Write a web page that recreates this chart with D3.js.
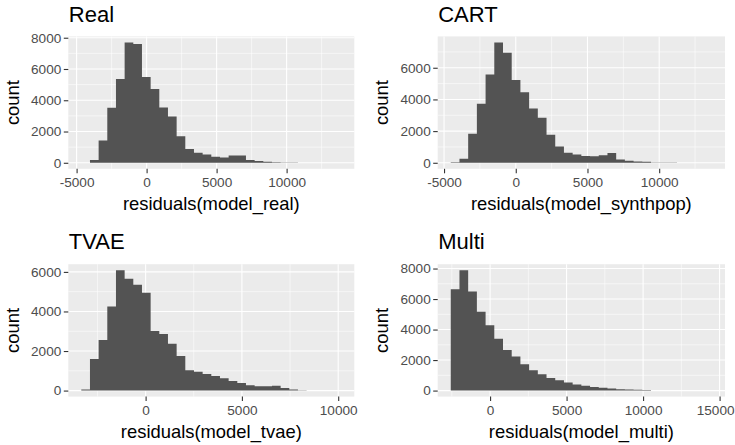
<!DOCTYPE html>
<html>
<head>
<meta charset="utf-8">
<script src="https://cdn.jsdelivr.net/npm/d3@7"></script>
<style>
  body { margin: 0; background: #ffffff; }
  text { font-family: "Liberation Sans", Arial, Helvetica, sans-serif; }
  .tick text { fill: #4d4d4d; font-size: 13.6px; }
  .tick line { stroke: #333333; stroke-width: 1.1; }
  .domain { display: none; }
  .title { font-size: 22px; fill: #000; }
  .axtitle { font-size: 18.4px; fill: #000; }
</style>
</head>
<body>
<script>
//panel titles and axis titles
var titles = ["Real", "CART", "TVAE", "Multi"];
var xTitles = ["residuals(model_real)", "residuals(model_synthpop)",
               "residuals(model_tvae)", "residuals(model_multi)"];

//histogram breaks: left edge of the first bin and bin width (30 bins each)
var binStart = [-4664, -4532, -3339, -2570];
var binWidth = [619, 607, 450, 569];

//bin counts
var realCounts  = [2, 170, 1430, 3520, 5355, 7700, 7595, 5480, 4715, 3540,
                   2965, 1705, 875, 640, 533, 384, 341, 470, 470, 171,
                   107, 64, 30, 20, 15, 10, 3, 2, 1, 1];
var cartCounts  = [40, 250, 1830, 3725, 5580, 7600, 6945, 5220, 4460, 3430,
                   2840, 1770, 1030, 640, 520, 430, 420, 470, 610, 210,
                   125, 85, 60, 25, 15, 10, 5, 2, 1, 1];
var tvaeCounts  = [50, 1600, 2555, 4250, 6085, 5650, 5345, 4940, 3010, 2860,
                   2370, 1750, 1025, 950, 840, 740, 625, 490, 385, 265,
                   215, 215, 250, 130, 50, 17, 5, 2, 1, 1];
var multiCounts = [6645, 7890, 6490, 5160, 4285, 3390, 2665, 2230, 1725, 1335,
                   1070, 830, 680, 525, 395, 320, 240, 180, 130, 90,
                   70, 50, 35, 3, 2, 2, 1, 1, 1, 1];
var counts = [realCounts, cartCounts, tvaeCounts, multiCounts];

//tick values
var xTicks = [[-5000, 0, 5000, 10000], [-5000, 0, 5000, 10000],
              [0, 5000, 10000], [0, 5000, 10000, 15000]];
var yTicks = [[0, 2000, 4000, 6000, 8000], [0, 2000, 4000, 6000],
              [0, 2000, 4000, 6000], [0, 2000, 4000, 6000, 8000]];

//layout
var svgW = 735, svgH = 445;
var panelX = [68.3, 437.7];
var panelW = [286, 287.3];
var panelY = [36.4, 264.2];
var panelH = 132.4;

var _svg = d3.select("body")
             .append("svg")
             .attr("width", svgW)
             .attr("height", svgH);

for (var k = 0; k < 4; k++) {
    drawPanel(k);
}

//plain hyphen for negatives, like R does
function fmt(d){ return String(d); }

//draws one histogram panel
function drawPanel(k)
{
    var col = k % 2, row = Math.floor(k / 2);
    var x0 = panelX[col], w = panelW[col];
    var y0 = panelY[row], h = panelH;
    var s = binStart[k], bw = binWidth[k], n = counts[k].length;
    var maxC = d3.max(counts[k]);

    //ggplot style 5% expansion
    var xScale = d3.scaleLinear()
                   .domain([s - 0.05 * n * bw, s + n * bw + 0.05 * n * bw])
                   .range([x0, x0 + w]);
    var yScale = d3.scaleLinear()
                   .domain([-0.05 * maxC, 1.05 * maxC])
                   .range([y0 + h, y0]);

    //panel background
    _svg.append("rect")
        .attr("x", x0).attr("y", y0)
        .attr("width", w).attr("height", h)
        .attr("fill", "#ebebeb");

    //minor grid lines, halfway between major ticks
    var xStep = xTicks[k][1] - xTicks[k][0];
    var yStep = yTicks[k][1] - yTicks[k][0];
    var xMinor = xTicks[k].concat([xTicks[k][xTicks[k].length - 1] + xStep])
                          .map(function(d){ return d - xStep / 2; })
                          .filter(function(d){ return d > xScale.domain()[0] && d < xScale.domain()[1]; });
    var yMinor = yTicks[k].concat([yTicks[k][yTicks[k].length - 1] + yStep])
                          .map(function(d){ return d - yStep / 2; })
                          .filter(function(d){ return d > yScale.domain()[0] && d < yScale.domain()[1]; });

    var grid = _svg.append("g");
    grid.selectAll(".vmin").data(xMinor).enter().append("line")
        .attr("x1", function(d){ return xScale(d); }).attr("x2", function(d){ return xScale(d); })
        .attr("y1", y0).attr("y2", y0 + h)
        .attr("stroke", "#fff").attr("stroke-width", 0.55);
    grid.selectAll(".hmin").data(yMinor).enter().append("line")
        .attr("y1", function(d){ return yScale(d); }).attr("y2", function(d){ return yScale(d); })
        .attr("x1", x0).attr("x2", x0 + w)
        .attr("stroke", "#fff").attr("stroke-width", 0.55);
    grid.selectAll(".vmaj").data(xTicks[k]).enter().append("line")
        .attr("x1", function(d){ return xScale(d); }).attr("x2", function(d){ return xScale(d); })
        .attr("y1", y0).attr("y2", y0 + h)
        .attr("stroke", "#fff").attr("stroke-width", 1.1);
    grid.selectAll(".hmaj").data(yTicks[k]).enter().append("line")
        .attr("y1", function(d){ return yScale(d); }).attr("y2", function(d){ return yScale(d); })
        .attr("x1", x0).attr("x2", x0 + w)
        .attr("stroke", "#fff").attr("stroke-width", 1.1);

    //bars as one stepped shape so neighbouring bins show no seams
    var steps = counts[k].concat([counts[k][n - 1]]);
    var area = d3.area()
                 .curve(d3.curveStepAfter)
                 .x(function(d, i){ return xScale(s + i * bw); })
                 .y0(yScale(0))
                 .y1(function(d){ return yScale(d); });

    _svg.append("path")
        .attr("d", area(steps))
        .attr("fill", "#535353");

    //axes
    _svg.append("g")
        .attr("transform", "translate(" + x0 + ",0)")
        .call(d3.axisLeft(yScale).tickValues(yTicks[k]).tickSize(4.5).tickPadding(2.5)
                .tickFormat(fmt));

    var gx = _svg.append("g")
                 .attr("transform", "translate(0," + (y0 + h) + ")")
                 .call(d3.axisBottom(xScale).tickValues(xTicks[k]).tickSize(4.5).tickPadding(4.2)
                         .tickFormat(fmt));

    //keep a label that would run past the right edge inside the picture
    gx.selectAll(".tick text").each(function(d){
        var half = this.getComputedTextLength() / 2;
        var over = xScale(d) + half - (svgW - 1);
        if (over > 0) d3.select(this).attr("x", -over);
    });

    //titles
    _svg.append("text")
        .attr("class", "title")
        .attr("x", x0 + 0.5)
        .attr("y", y0 - 14.8)
        .text(titles[k]);

    _svg.append("text")
        .attr("class", "axtitle")
        .attr("text-anchor", "middle")
        .attr("x", x0 + w / 2)
        .attr("y", y0 + h + 41)
        .text(xTitles[k]);

    _svg.append("text")
        .attr("class", "axtitle")
        .attr("text-anchor", "middle")
        .attr("transform", "translate(" + (x0 - 49.5) + "," + (y0 + h / 2) + ") rotate(-90)")
        .text("count");
}
</script>
</body>
</html>
